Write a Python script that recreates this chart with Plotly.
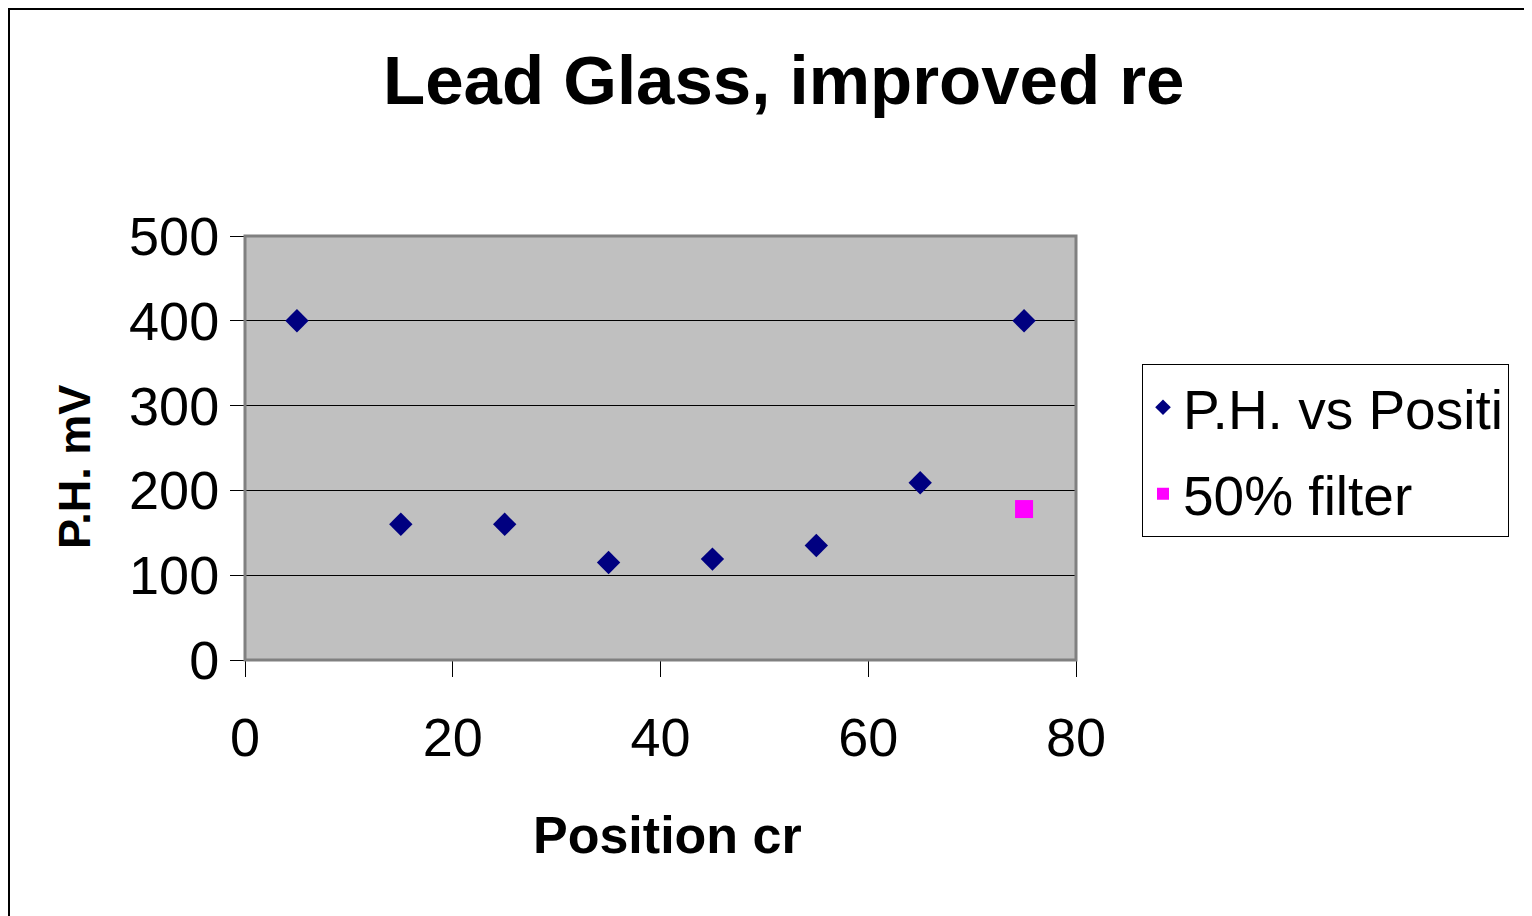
import plotly.graph_objects as go

# Data
positions = [5, 15, 25, 35, 45, 55, 65, 75]
ph_mv = [400, 160, 160, 115, 119, 135, 209, 400]
filter_pos = [75]
filter_mv = [178]

x_ticks = [0, 20, 40, 60, 80]
y_ticks = [0, 100, 200, 300, 400, 500]

title_text = "Lead Glass, improved re"
x_title = "Position cr"
y_title = "P.H. mV"
series_names = ["P.H. vs Positi", "50% filter"]

OFF = 8  # page body margin
W, H = 1532 - OFF, 916 - OFF
L, R, T, B = 245 - OFF, 1076 - OFF, 236 - OFF, 660 - OFF
pw, ph = R - L, B - T

def px(xr):
    return (xr - OFF - L) / pw

def py(yr):
    return (B - (yr - OFF)) / ph

FONT = "Liberation Sans, Arial, sans-serif"

fig = go.Figure()
fig.add_trace(go.Scatter(
    x=positions, y=ph_mv, mode="markers", name=series_names[0],
    marker=dict(symbol="diamond", size=18, color="#000080"),
    cliponaxis=False, legendgroup="a",
))
fig.add_trace(go.Scatter(
    x=filter_pos, y=filter_mv, mode="markers", name=series_names[1],
    marker=dict(symbol="square", size=18, color="#FF00FF"),
    cliponaxis=False, legendgroup="b",
))

fig.update_layout(
    width=W, height=H,
    margin=dict(l=L, r=W - R, t=T, b=H - B, pad=0),
    paper_bgcolor="white",
    plot_bgcolor="#C0C0C0",
    showlegend=True,
    legend=dict(
        x=px(1142), y=py(364), xanchor="left", yanchor="top",
        bgcolor="white", bordercolor="black", borderwidth=1,
        font=dict(family=FONT, size=55, color="black"),
        tracegroupgap=12,
        itemsizing="constant",
    ),
    annotations=[
        dict(text="<b>" + title_text + "</b>", xref="paper", yref="paper",
             x=px(381), y=py(80), xanchor="left", yanchor="middle",
             showarrow=False, font=dict(family=FONT, size=69, color="black")),
        dict(text="<b>" + x_title + "</b>", xref="paper", yref="paper",
             x=px(531), y=py(835), xanchor="left", yanchor="middle",
             showarrow=False, font=dict(family=FONT, size=52, color="black")),
        dict(text="<b>" + y_title + "</b>", xref="paper", yref="paper",
             x=px(74), y=py(467), xanchor="center", yanchor="middle",
             textangle=-90, showarrow=False,
             font=dict(family=FONT, size=45, color="black")),
    ],
    shapes=[
        # outer chart border
        dict(type="rect", xref="paper", yref="paper",
             x0=px(9), x1=px(1600), y0=py(9), y1=py(1000),
             line=dict(color="black", width=2), fillcolor="rgba(0,0,0,0)", layer="below"),
        # plot area border (grey)
        dict(type="rect", xref="paper", yref="paper",
             x0=0, x1=1, y0=0, y1=1,
             line=dict(color="#808080", width=3), fillcolor="rgba(0,0,0,0)", layer="above"),
    ],
)

fig.update_xaxes(
    range=[0, 80], tickvals=x_ticks, ticktext=[str(v) for v in x_ticks],
    showgrid=False, zeroline=False,
    showline=True, linecolor="black", linewidth=1,
    ticks="outside", ticklen=16, tickcolor="black", tickwidth=1,
    tickfont=dict(family=FONT, size=54, color="black"),
    ticklabelstandoff=14,
)
fig.update_yaxes(
    range=[0, 500], tickvals=y_ticks, ticktext=[str(v) for v in y_ticks],
    showgrid=True, gridcolor="black", gridwidth=1, zeroline=False,
    showline=True, linecolor="black", linewidth=1,
    ticks="outside", ticklen=14, tickcolor="black", tickwidth=1,
    tickfont=dict(family=FONT, size=54, color="black"),
    ticklabelstandoff=0,
)

fig.write_html("out.html")
